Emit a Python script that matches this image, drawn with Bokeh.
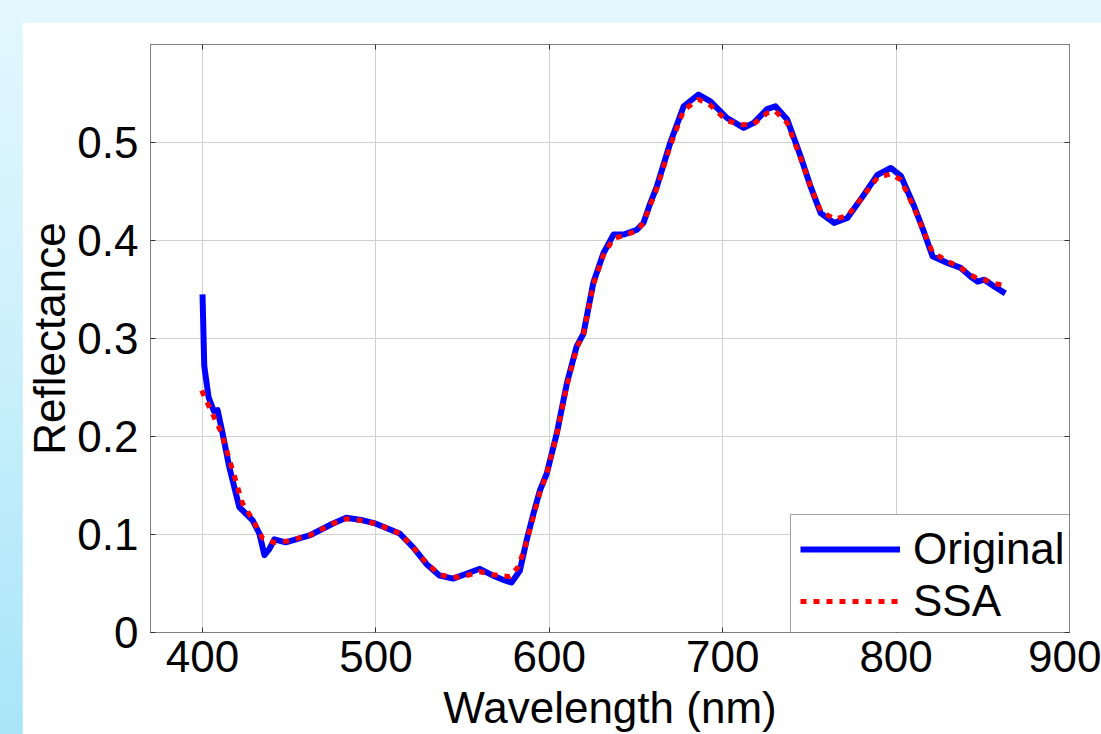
from bokeh.plotting import figure
from bokeh.models import LinearAxis, FixedTicker, Range1d, Legend, LegendItem, GlobalInlineStyleSheet
from bokeh.embed import file_html
from bokeh.resources import INLINE

# ---- data ----
orig_wl = [400, 401, 403.5, 406.5, 408.7, 411.6, 415.4, 421.2, 428.9, 432.8, 435.7, 438.5, 441.4,
           448, 461.7, 475, 482.8, 492.5, 500, 513.7, 521.4, 529.1, 536.8, 544.5, 552.2, 559.9,
           567.6, 573, 578.2, 583, 586.9, 590.8, 594.6, 598.5, 604.3, 610.1, 615.8, 619.7, 625.4,
           631.2, 637, 642.8, 650.5, 654.3, 658.2, 662, 669.8, 677.5, 686, 692.9, 702.5, 712.1,
           717.9, 725.6, 730.4, 737.2, 744.9, 750.7, 756.5, 764.2, 771.9, 779.6, 789.2, 796.9,
           802.7, 810.4, 816.2, 821, 829.6, 837.3, 843.1, 847, 850.9, 856.6, 863]
orig_refl = [0.345, 0.272, 0.240, 0.226, 0.227, 0.203, 0.169, 0.128, 0.1145, 0.101, 0.079, 0.085,
             0.095, 0.092, 0.099, 0.111, 0.117, 0.1145, 0.111, 0.101, 0.087, 0.070, 0.058, 0.055,
             0.060, 0.065, 0.058, 0.054, 0.051, 0.063, 0.094, 0.121, 0.145, 0.162, 0.203, 0.254,
             0.292, 0.305, 0.357, 0.387, 0.406, 0.406, 0.411, 0.418, 0.438, 0.455, 0.500, 0.537,
             0.549, 0.542, 0.525, 0.515, 0.520, 0.534, 0.537, 0.5235, 0.486, 0.455, 0.428, 0.418,
             0.423, 0.442, 0.467, 0.474, 0.466, 0.435, 0.408, 0.384, 0.377, 0.372, 0.363, 0.358,
             0.360, 0.353, 0.346]

ssa_wl = [399.5, 403.9, 410.6, 417.3, 423, 429, 434.7, 441, 448, 461.7, 475, 482.8, 492.5, 500,
          513.7, 521.4, 529.1, 536.8, 544.5, 552.2, 559.9, 567.6, 577.2, 582, 586, 590.8, 594.6,
          598.5, 604.3, 610.1, 615.8, 619.7, 625.4, 631.2, 637, 642.8, 650.5, 654.3, 658.2, 662,
          669.8, 677.5, 686, 692.9, 702.5, 712.1, 717.9, 725.6, 730.4, 737.2, 744.9, 750.7, 756.5,
          764.2, 771.9, 779.6, 789.2, 796.9, 802.7, 810.4, 816.2, 821, 829.6, 837.3, 843.1, 847,
          850.9, 856.6, 863]
ssa_refl = [0.247, 0.230, 0.205, 0.166, 0.132, 0.115, 0.096, 0.092, 0.093, 0.099, 0.111, 0.116,
            0.114, 0.111, 0.101, 0.087, 0.071, 0.059, 0.056, 0.058, 0.062, 0.059, 0.057, 0.067,
            0.087, 0.118, 0.143, 0.162, 0.202, 0.252, 0.290, 0.305, 0.355, 0.385, 0.402, 0.405,
            0.410, 0.418, 0.436, 0.453, 0.497, 0.533, 0.544, 0.538, 0.522, 0.518, 0.519, 0.530,
            0.532, 0.520, 0.484, 0.455, 0.430, 0.422, 0.425, 0.442, 0.464, 0.468, 0.462, 0.433,
            0.408, 0.388, 0.379, 0.372, 0.365, 0.361, 0.360, 0.356, 0.354]

x_ticks = [400, 500, 600, 700, 800, 900]
y_ticks = [0, 0.1, 0.2, 0.3, 0.4, 0.5]
y_tick_labels = {0: "0", 0.1: "0.1", 0.2: "0.2", 0.3: "0.3", 0.4: "0.4", 0.5: "0.5"}

FONT = "Liberation Sans"
FS = "44px"

p = figure(width=1079, height=712, output_backend="svg", toolbar_location=None,
           x_range=Range1d(370, 900), y_range=Range1d(0, 0.6),
           min_border_left=126, min_border_top=22, min_border_right=32, min_border_bottom=102,
           background_fill_color="white", border_fill_color="white")

p.stylesheets = [GlobalInlineStyleSheet(css=(
    "html,body{margin:0;padding:0;overflow:hidden;}"
    "body{background:linear-gradient(180deg,#e2f7fd 0%,#d3f3fc 35%,#a8e5f9 100%);"
    "padding:22px 0 0 22px;box-sizing:border-box;width:1101px;height:734px;}"))]

p.outline_line_color = "#808080"
p.outline_line_width = 1

for ax in (p.xaxis[0], p.yaxis[0]):
    ax.axis_line_color = "#808080"
    ax.major_tick_in = 5
    ax.major_tick_out = 0
    ax.major_tick_line_color = "#333333"
    ax.minor_tick_line_color = None
    ax.major_label_text_font = FONT
    ax.major_label_text_font_size = FS
    ax.major_label_text_color = "black"
    ax.axis_label_text_font = FONT
    ax.axis_label_text_font_size = FS
    ax.axis_label_text_font_style = "normal"
    ax.axis_label_text_color = "black"

p.xaxis[0].ticker = FixedTicker(ticks=x_ticks)
p.yaxis[0].ticker = FixedTicker(ticks=y_ticks)
p.yaxis[0].major_label_overrides = y_tick_labels
p.xaxis[0].axis_label = "Wavelength (nm)"
p.yaxis[0].axis_label = "Reflectance"
p.xaxis[0].major_label_standoff = 8
p.yaxis[0].major_label_standoff = 12
p.xaxis[0].axis_label_standoff = 8
p.yaxis[0].axis_label_standoff = 0

# mirrored box ticks (top / right)
top_ax = LinearAxis(ticker=FixedTicker(ticks=x_ticks),
                    major_label_overrides={t: "" for t in x_ticks})
right_ax = LinearAxis(ticker=FixedTicker(ticks=y_ticks),
                      major_label_overrides={t: "" for t in y_ticks})
for ax in (top_ax, right_ax):
    ax.axis_line_color = "#808080"
    ax.major_tick_in = 5
    ax.major_tick_out = 0
    ax.major_tick_line_color = "#333333"
    ax.minor_tick_line_color = None
    ax.major_label_standoff = 0
p.add_layout(top_ax, "above")
p.add_layout(right_ax, "right")

p.xgrid.grid_line_color = "#d0d0d0"
p.ygrid.grid_line_color = "#d0d0d0"
p.xgrid.grid_line_width = 1
p.ygrid.grid_line_width = 1

r_orig = p.line(orig_wl, orig_refl, line_color="#0000ff", line_width=6, line_join="round")
r_ssa = p.line(ssa_wl, ssa_refl, line_color="#ff0000", line_width=5, line_dash="6 7")

legend = Legend(items=[LegendItem(label="Original", renderers=[r_orig]),
                       LegendItem(label="SSA", renderers=[r_ssa])],
                location=(640, -4), margin=0, padding=9, spacing=2,
                label_height=46, glyph_height=46, glyph_width=100, label_standoff=13,
                label_width=146,
                label_text_font=FONT, label_text_font_size=FS, label_text_color="black",
                border_line_color="#444444", border_line_width=1,
                background_fill_color="white", background_fill_alpha=1.0)
p.add_layout(legend, "center")

open("out.html", "w").write(file_html(p, INLINE))
